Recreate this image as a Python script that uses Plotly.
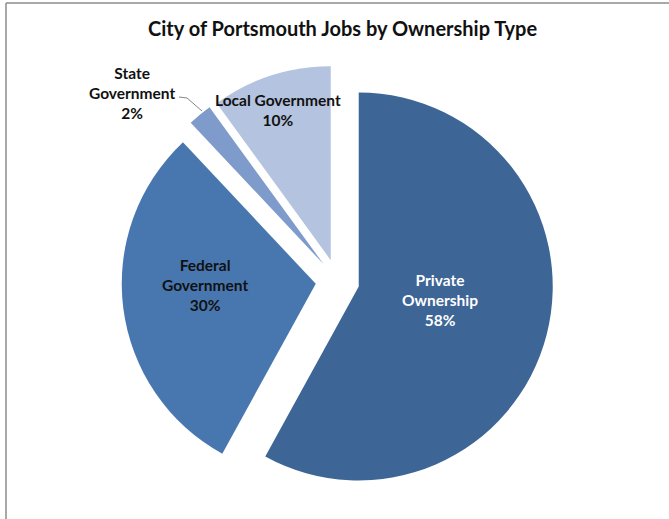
import plotly.graph_objects as go

categories = ["Private Ownership", "Federal Government", "State Government", "Local Government"]
display_labels = ["Private<br>Ownership", "Federal<br>Government", "State<br>Government", "Local Government"]
values = [58, 30, 2, 10]
colors = ["#3D6596", "#4877B0", "#7E9BCB", "#B4C3DF"]
title_text = "City of Portsmouth Jobs by Ownership Type"

W, H = 669, 519
PULL = 0.113
R = 194.0
CX, CY = 337.5, 281.0
half = R * (1 + PULL)

def px(x):
    return x / W

def py(y):
    return 1 - y / H

fig = go.Figure()
fig.add_trace(go.Pie(
    labels=categories,
    values=values,
    sort=False,
    direction="clockwise",
    rotation=0,
    pull=[PULL] * len(values),
    marker=dict(colors=colors, line=dict(width=0)),
    textinfo="none",
    hoverinfo="label+percent",
    showlegend=False,
    domain=dict(x=[px(CX - half), px(CX + half)], y=[py(CY + half), py(CY - half)]),
))

FONT = "Lato, 'Open Sans', sans-serif"
label_font = dict(family=FONT, size=15.5)
label_pos = [(440, 300), (205, 285), (132, 93), (278, 110)]
label_colors = ["white", "#111111", "#111111", "#111111"]
for lab, val, (lx, ly), lc in zip(display_labels, values, label_pos, label_colors):
    fig.add_annotation(
        x=px(lx), y=py(ly), xref="paper", yref="paper",
        text=f"<b>{lab}<br>{val}%</b>", showarrow=False,
        font=dict(color=lc, **label_font), align="center",
        xanchor="center", yanchor="middle",
    )

# title
fig.add_annotation(
    x=px(342.5), y=py(28), xref="paper", yref="paper",
    text=f"<b>{title_text}</b>", showarrow=False,
    font=dict(family=FONT, size=20, color="#111111"),
    xanchor="center", yanchor="middle",
)

# leader line for State Government label
fig.add_shape(type="line", xref="paper", yref="paper",
              x0=px(179), y0=py(97), x1=px(187), y1=py(98),
              line=dict(color="#888888", width=1))
fig.add_shape(type="line", xref="paper", yref="paper",
              x0=px(187), y0=py(98), x1=px(202), y1=py(111),
              line=dict(color="#888888", width=1))

# chart frame (left and top edges visible)
fig.add_shape(type="line", xref="paper", yref="paper",
              x0=px(6), y0=py(3), x1=px(6), y1=py(H + 2),
              line=dict(color="#8C8C8C", width=1.5))
fig.add_shape(type="line", xref="paper", yref="paper",
              x0=px(6), y0=py(3), x1=px(W + 2), y1=py(3),
              line=dict(color="#8C8C8C", width=1.5))

fig.update_layout(
    width=W, height=H,
    margin=dict(l=0, r=0, t=0, b=0),
    paper_bgcolor="white", plot_bgcolor="white",
)

fig.write_html("out.html", config={"displayModeBar": False},
               post_script="document.body.style.margin='0';")
